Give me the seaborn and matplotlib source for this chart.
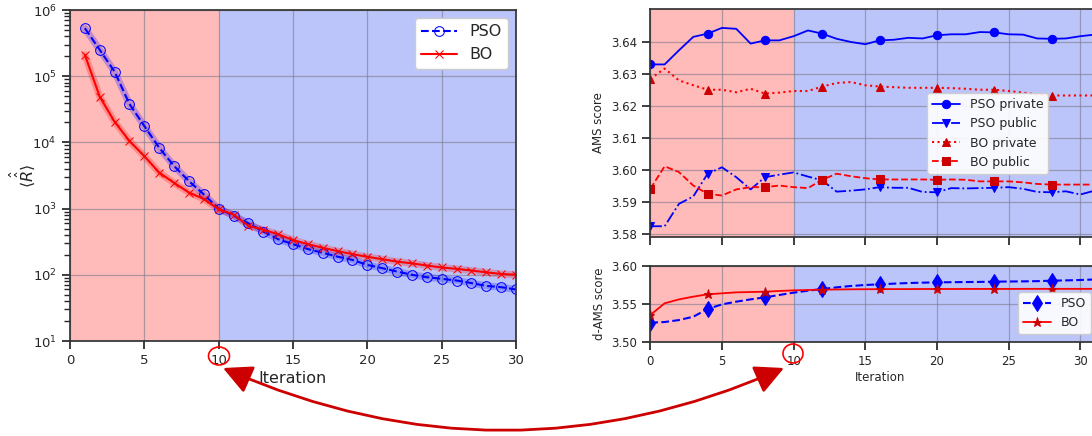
import numpy as np
import pandas as pd
import seaborn as sns
import matplotlib.pyplot as plt
from matplotlib.patches import Ellipse, FancyArrowPatch

sns.set_theme(style='ticks')
plt.rcParams['font.family'] = ['DejaVu Sans']

# left panel: <R> per iteration (log scale)
iter_left = list(range(1, 31))
pso_R = [5.3e5, 2.5e5, 1.17e5, 3.8e4, 1.77e4, 8.3e3, 4.4e3, 2.6e3, 1.64e3, 1.0e3,
         780, 600, 450, 345, 290, 245, 215, 188, 168, 141,
         126, 112, 100, 92, 87, 82, 75, 68, 65, 60]
bo_R = [2.1e5, 4.9e4, 2.05e4, 1.05e4, 6.2e3, 3.5e3, 2.45e3, 1.75e3, 1.4e3, 980,
        810, 550, 480, 410, 335, 290, 256, 228, 205, 187,
        172, 158, 149, 138, 129, 123, 116, 109, 103, 100]

# right panels: AMS scores per iteration
iter_right = list(range(0, 32))
pso_private = [3.6329, 3.6329, 3.6373, 3.6415, 3.6425, 3.6443, 3.6440, 3.6394, 3.6404, 3.6404,
               3.6417, 3.6435, 3.6425, 3.6409, 3.6399, 3.6392, 3.6404, 3.6406, 3.6412, 3.6410,
               3.6420, 3.6423, 3.6423, 3.6430, 3.6429, 3.6423, 3.6422, 3.6410, 3.6409, 3.6410,
               3.6417, 3.6422]
pso_public = [3.5824, 3.5824, 3.5894, 3.5917, 3.5988, 3.6008, 3.5977, 3.5939, 3.5977, 3.5985,
              3.5992, 3.5979, 3.5967, 3.5932, 3.5935, 3.5939, 3.5946, 3.5944, 3.5944, 3.5931,
              3.5930, 3.5943, 3.5942, 3.5943, 3.5944, 3.5946, 3.5941, 3.5931, 3.5930, 3.5933,
              3.5923, 3.5935]
bo_private = [3.6284, 3.6316, 3.6279, 3.6264, 3.6250, 3.6250, 3.6242, 3.6253, 3.6238, 3.6241,
              3.6246, 3.6246, 3.6260, 3.6271, 3.6274, 3.6264, 3.6260, 3.6258, 3.6256, 3.6256,
              3.6256, 3.6255, 3.6253, 3.6250, 3.6250, 3.6246, 3.6241, 3.6235, 3.6232, 3.6232,
              3.6232, 3.6232]
bo_public = [3.5941, 3.6011, 3.5993, 3.5951, 3.5925, 3.5920, 3.5939, 3.5946, 3.5946, 3.5951,
             3.5946, 3.5943, 3.5969, 3.5988, 3.5980, 3.5974, 3.5970, 3.5970, 3.5970, 3.5970,
             3.5969, 3.5970, 3.5969, 3.5964, 3.5964, 3.5964, 3.5961, 3.5956, 3.5954, 3.5954,
             3.5954, 3.5954]
pso_dams = [3.5251, 3.5260, 3.5286, 3.5330, 3.5432, 3.5493, 3.5529, 3.5559, 3.5586, 3.5617,
            3.5648, 3.5674, 3.5696, 3.5718, 3.5736, 3.5749, 3.5758, 3.5767, 3.5775, 3.5780,
            3.5784, 3.5786, 3.5788, 3.5790, 3.5793, 3.5795, 3.5797, 3.5800, 3.5806, 3.5810,
            3.5815, 3.5822]
bo_dams = [3.5352, 3.5507, 3.5559, 3.5595, 3.5626, 3.5639, 3.5652, 3.5656, 3.5661, 3.5670,
           3.5678, 3.5683, 3.5687, 3.5690, 3.5692, 3.5693, 3.5694, 3.5695, 3.5695, 3.5696,
           3.5696, 3.5696, 3.5697, 3.5697, 3.5697, 3.5697, 3.5698, 3.5698, 3.5698, 3.5698,
           3.5698, 3.5698]

red_bg = '#ffbaba'
blue_bg = '#bcc5fa'
W, H = 1092, 436

fig = plt.figure(figsize=(10.92, 4.36), dpi=100)
ax1 = fig.add_axes([70 / W, 1 - 341 / H, 446 / W, 331 / H])
ax2 = fig.add_axes([650.3 / W, 1 - 236.5 / H, 458.6 / W, 227.2 / H])
ax3 = fig.add_axes([650.3 / W, 1 - 341.7 / H, 458.6 / W, 75.7 / H])


def shade(ax, xmax):
    ax.axvspan(0, 10, color=red_bg, zorder=0, lw=0)
    ax.axvspan(10, xmax, color=blue_bg, zorder=0, lw=0)
    ax.grid(True, color='#7a7a8a', alpha=0.6, lw=0.9)
    for s in ax.spines.values():
        s.set_color('#333333')


# ---- left panel
shade(ax1, 30)
sns.lineplot(x=iter_left, y=pso_R, ax=ax1, color='blue', lw=5, alpha=0.25)
sns.lineplot(x=iter_left, y=bo_R, ax=ax1, color='red', lw=5, alpha=0.25)
sns.lineplot(x=iter_left, y=pso_R, ax=ax1, color='blue', ls='--', marker='o',
             markerfacecolor='none', markeredgecolor='blue', ms=7, lw=1.5, label='PSO')
sns.lineplot(x=iter_left, y=bo_R, ax=ax1, color='red', ls='-', marker='x',
             markeredgecolor='red', ms=6, lw=1.5, label='BO')
ax1.set_yscale('log')
ax1.set_ylim(10, 1e6)
ax1.set_xlim(0, 30)
ax1.set_xticks(range(0, 31, 5))
ax1.tick_params(labelsize=9.5)
ax1.set_xlabel('Iteration', fontsize=11.5, labelpad=3)
ax1.set_ylabel(r'$\langle\hat{\hat{R}}\rangle$', fontsize=11.5)
ax1.yaxis.set_label_coords(-0.075, 0.5)
ax1.legend(loc='upper right', fontsize=11.5, framealpha=1, handlelength=2.2)

# ---- right top panel
shade(ax2, 32)
sns.lineplot(x=iter_right, y=pso_private, ax=ax2, color='blue', ls='-', marker='o',
             markeredgecolor='blue', ms=6, markevery=4, lw=1.3, label='PSO private')
sns.lineplot(x=iter_right, y=pso_public, ax=ax2, color='blue', ls='-.', marker='v',
             markeredgecolor='blue', ms=6, markevery=4, lw=1.3, label='PSO public')
sns.lineplot(x=iter_right, y=bo_private, ax=ax2, color='red', ls=':', marker='^',
             markeredgecolor='#cc0000', markerfacecolor='#cc0000', ms=6, markevery=4,
             lw=1.5, label='BO private')
sns.lineplot(x=iter_right, y=bo_public, ax=ax2, color='red', ls='--', marker='s',
             markeredgecolor='#cc0000', markerfacecolor='#cc0000', ms=5.5, markevery=4,
             lw=1.3, label='BO public')
ax2.set_xlim(0, 32)
ax2.set_ylim(3.5792, 3.6501)
ax2.set_xticks(range(0, 31, 5))
ax2.set_xticklabels([])
ax2.set_yticks([3.58, 3.59, 3.60, 3.61, 3.62, 3.63, 3.64])
ax2.tick_params(labelsize=8.5)
ax2.set_ylabel('AMS score', fontsize=8.5)
ax2.legend(loc='upper left', bbox_to_anchor=(927 / W, 1 - 93 / H),
           bbox_transform=fig.transFigure, fontsize=9, framealpha=0.9,
           handlelength=2.2, borderaxespad=0)

# ---- right bottom panel
shade(ax3, 32)
sns.lineplot(x=iter_right, y=pso_dams, ax=ax3, color='blue', ls='--', marker='d',
             markeredgecolor='blue', ms=8, markevery=4, lw=1.5, label='PSO')
sns.lineplot(x=iter_right, y=bo_dams, ax=ax3, color='red', ls='-', marker='*',
             markeredgecolor='#cc0000', markerfacecolor='#cc0000', ms=6.5, markevery=4,
             lw=1.3, label='BO')
ax3.set_xlim(0, 32)
ax3.set_ylim(3.50, 3.60)
ax3.set_xticks(range(0, 31, 5))
ax3.set_yticks([3.50, 3.55, 3.60])
ax3.set_yticklabels(['3.50', '3.55', '3.60'])
ax3.tick_params(labelsize=8.5)
ax3.set_xlabel('Iteration', fontsize=8.5, labelpad=2)
ax3.set_ylabel('d-AMS score', fontsize=8.5)
ax3.legend(loc='upper left', bbox_to_anchor=(1018 / W, 1 - 292 / H),
           bbox_transform=fig.transFigure, fontsize=9, framealpha=0.9,
           handlelength=2.2, borderaxespad=0)

# circles around the "10" tick labels
for cx, cy, w, h in [(219, 356, 21, 18), (793, 353.5, 20, 19)]:
    fig.patches.append(Ellipse((cx / W, 1 - cy / H), w / W, h / H,
                               transform=fig.transFigure, fill=False,
                               edgecolor='red', lw=1.2))

# curved double arrow
arrow = FancyArrowPatch((223 / W, 1 - 368 / H), (784 / W, 1 - 368 / H),
                        transform=fig.transFigure,
                        connectionstyle='arc3,rad=0.22',
                        arrowstyle='<|-|>,head_length=1.1,head_width=0.55',
                        mutation_scale=16, color='#cc0000', lw=2, shrinkA=0, shrinkB=0)
fig.patches.append(arrow)

fig.savefig('out.png', dpi=100)
